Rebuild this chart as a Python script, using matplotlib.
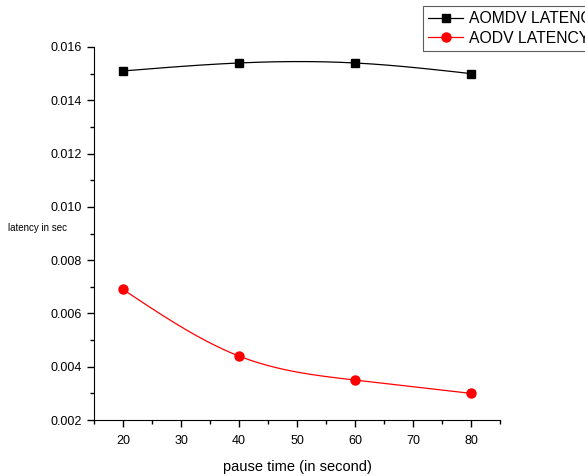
import numpy as np
import matplotlib.pyplot as plt
from matplotlib.ticker import MultipleLocator

plt.rcParams['font.family'] = ['Liberation Sans', 'DejaVu Sans']

# data
pause_time = [20, 40, 60, 80]
aomdv_latency = [0.0151, 0.0154, 0.0154, 0.0150]
aodv_latency = [0.0069, 0.0044, 0.0035, 0.0030]


def natural_spline(x, y, n=200):
    # smooth connecting line (Origin "spline" style), markers stay on the data
    x = np.asarray(x, float)
    y = np.asarray(y, float)
    k = len(x)
    h = np.diff(x)
    A = np.zeros((k, k))
    b = np.zeros(k)
    A[0, 0] = A[-1, -1] = 1
    for i in range(1, k - 1):
        A[i, i - 1] = h[i - 1]
        A[i, i] = 2 * (h[i - 1] + h[i])
        A[i, i + 1] = h[i]
        b[i] = 6 * ((y[i + 1] - y[i]) / h[i] - (y[i] - y[i - 1]) / h[i - 1])
    M = np.linalg.solve(A, b)
    xs = np.linspace(x[0], x[-1], n)
    idx = np.clip(np.searchsorted(x, xs) - 1, 0, k - 2)
    x0, x1 = x[idx], x[idx + 1]
    hh = x1 - x0
    ys = (M[idx] * (x1 - xs) ** 3 / (6 * hh) + M[idx + 1] * (xs - x0) ** 3 / (6 * hh)
          + (y[idx] / hh - M[idx] * hh / 6) * (x1 - xs)
          + (y[idx + 1] / hh - M[idx + 1] * hh / 6) * (xs - x0))
    return xs, ys


fig = plt.figure(figsize=(5.85, 4.76), dpi=100)
ax = fig.add_axes([0.1607, 0.1176, 0.694, 0.7837])

xs, ys = natural_spline(pause_time, aomdv_latency)
ax.plot(xs, ys, color='black', linewidth=0.9)
ax.plot(pause_time, aomdv_latency, 's', color='black', markersize=6)

xs, ys = natural_spline(pause_time, aodv_latency)
ax.plot(xs, ys, color='red', linewidth=0.9)
ax.plot(pause_time, aodv_latency, 'o', color='red', markersize=6.5)

ax.set_xlim(15, 85)
ax.set_ylim(0.002, 0.016)
ax.xaxis.set_major_locator(MultipleLocator(10))
ax.xaxis.set_minor_locator(MultipleLocator(5))
ax.yaxis.set_major_locator(MultipleLocator(0.002))
ax.yaxis.set_minor_locator(MultipleLocator(0.001))
ax.yaxis.set_major_formatter(plt.FuncFormatter(lambda v, p: f'{v:.3f}'))
ax.spines['top'].set_visible(False)
ax.spines['right'].set_visible(False)
ax.tick_params(which='both', direction='out', width=1, labelsize=9)
ax.tick_params(axis='x', which='major', pad=6)
ax.tick_params(which='major', length=5)
ax.tick_params(which='minor', length=3)

ax.set_xlabel('pause time (in second)', fontsize=10.5, labelpad=9)
fig.text(0.014, 0.52, 'latency in sec', fontsize=7, ha='left', va='center')

h1 = ax.plot([], [], 's-', color='black', markersize=6, linewidth=0.9)[0]
h2 = ax.plot([], [], 'o-', color='red', markersize=6.5, linewidth=0.9)[0]
leg = fig.legend([h1, h2], ['AOMDV LATENCY', 'AODV LATENCY'],
                 loc='upper left', bbox_to_anchor=(0.723, 0.988),
                 fontsize=11.3, frameon=True, fancybox=False,
                 handlelength=2.2, handletextpad=0.4, borderpad=0.35,
                 labelspacing=0.3, borderaxespad=0)
leg.get_frame().set_edgecolor('#333333')
leg.get_frame().set_linewidth(0.8)

plt.savefig('out.png', dpi=100)
